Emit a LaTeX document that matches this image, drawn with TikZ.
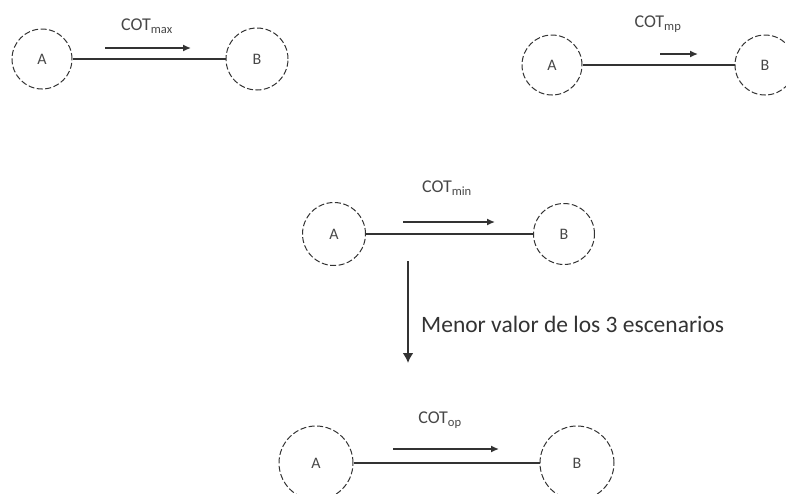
\documentclass[tikz,border=0pt]{standalone}
\usepackage{fontspec}
\setmainfont{Carlito}
\usetikzlibrary{arrows.meta}
\definecolor{ink}{HTML}{333333}
\definecolor{txt}{HTML}{474747}
\begin{document}
\begin{tikzpicture}[x=1pt,y=-1pt,
  stage/.style={circle, draw=ink, dash pattern=on 6pt off 2.5pt, line width=1pt,
    inner sep=0pt, font=\fontsize{16}{16}\selectfont, text=txt},
  link/.style={draw=ink, line width=1.1pt},
  cost/.style={draw=ink, line width=1.4pt, -{Latex[length=8pt,width=7pt]}},
  tag/.style={font=\fontsize{18}{18}\selectfont, text=txt, inner sep=1pt},
  note/.style={font=\fontsize{23.5}{23.5}\selectfont, text=ink, inner sep=0pt, anchor=west}]
\useasboundingbox (0,0) rectangle (786,493);

% scenario 1 (top left)
\node[stage, minimum size=60pt] (A1) at (42,59) {A};
\node[stage, minimum size=62pt] (B1) at (257,59) {B};
\draw[link] (A1) -- (B1);
\coordinate (p1s) at (105,48);
\coordinate (p1e) at (191,48);
\draw[cost] (p1s) -- (p1e);
\node[tag] (t1) at (147,26) {COT\textsubscript{max}};

% scenario 2 (top right)
\node[stage, minimum size=60pt] (A2) at (552,65) {A};
\node[stage, minimum size=60pt] (B2) at (765,65) {B};
\draw[link] (A2) -- (B2);
\coordinate (p2s) at (660,54);
\coordinate (p2e) at (698,54);
\draw[cost] (p2s) -- (p2e);
\node[tag] (t2) at (658,24) {COT\textsubscript{mp}};

% scenario 3 (centre)
\node[stage, minimum size=63pt] (A3) at (334,234) {A};
\node[stage, minimum size=61pt] (B3) at (564,234) {B};
\draw[link] (A3) -- (B3);
\coordinate (p3s) at (403,222);
\coordinate (p3e) at (495,222);
\draw[cost] (p3s) -- (p3e);
\node[tag] (t3) at (447,188) {COT\textsubscript{min}};

% selection step
\coordinate (d0) at (408,261);
\coordinate (d1) at (408,363);
\draw[draw=ink, line width=2.6pt, -{Latex[length=10pt,width=11pt]}] (d0) -- (d1);
\node[note] (n1) at (421,324) {Menor valor de los 3 escenarios};

% chosen scenario (bottom)
\node[stage, minimum size=74pt] (A4) at (316,463) {A};
\node[stage, minimum size=74pt] (B4) at (577,463) {B};
\draw[link] (A4) -- (B4);
\coordinate (p4s) at (393,449);
\coordinate (p4e) at (499,449);
\draw[cost] (p4s) -- (p4e);
\node[tag] (t4) at (440,420) {COT\textsubscript{op}};
\end{tikzpicture}
\end{document}
